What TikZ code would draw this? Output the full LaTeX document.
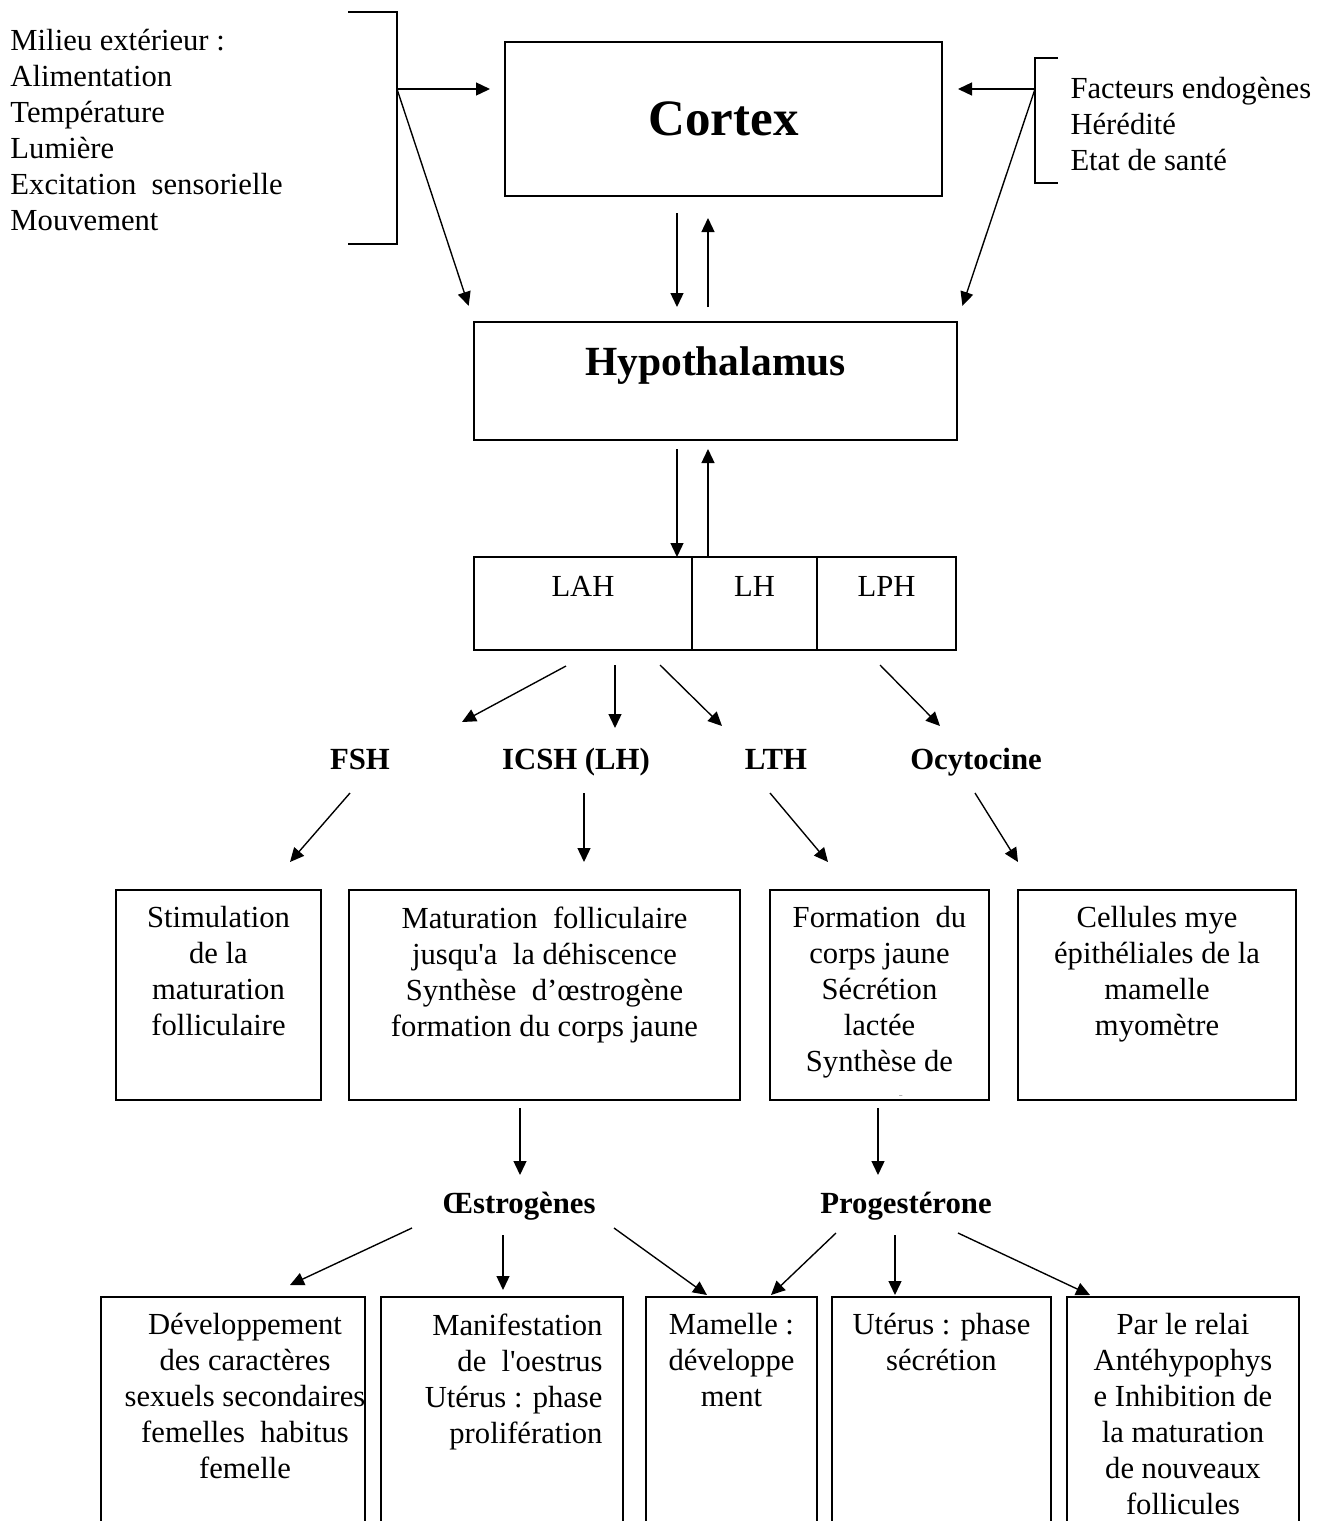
\documentclass[tikz,border=0pt]{standalone}
\usepackage{fontspec}
\setmainfont{Liberation Serif}
\usetikzlibrary{positioning, arrows.meta}

\begin{document}
\begin{tikzpicture}[
    x=0.4pt, y=-0.4pt,
    box/.style={draw, line width=0.75pt, inner sep=0pt, outer sep=0pt},
    txt/.style={inner sep=0pt, align=center, font=\fontsize{12.25}{14.4}\selectfont},
    hormone/.style={inner sep=0pt, font=\fontsize{12.3}{14.4}\selectfont\bfseries,
      text height=8.1pt, text depth=0pt},
    arr/.style={-{Triangle[length=5.6pt,width=5.2pt]}, line width=0.55pt}
  ]
    \useasboundingbox (0,0) rectangle (1327,1521);
    \clip (0,0) rectangle (1327,1521);

    % centres
    \node[box, minimum width=174.8pt, minimum height=61.6pt,
          font=\fontsize{20.4}{24}\selectfont\bfseries] (cortex) at (723.5,119) {Cortex};
    \node[box, minimum width=193.2pt, minimum height=47.2pt] (hypo) at (715.5,381) {};
    \node[txt, font=\fontsize{16.6}{20}\selectfont\bfseries, below=9.6pt of hypo.north] (hypotxt) {Hypothalamus};

    % hypophyse
    \node[box, minimum width=87.2pt, minimum height=37.2pt] (lah) at (583,603.5) {};
    \node[box, minimum width=50pt,   minimum height=37.2pt, right=0pt of lah] (lh) {};
    \node[box, minimum width=55.6pt, minimum height=37.2pt, right=0pt of lh]  (lph) {};
    \node[txt, below=7.6pt of lah.north] (lahtxt) {LAH};
    \node[txt, below=7.6pt of lh.north]  (lhtxt)  {LH};
    \node[txt, below=7.6pt of lph.north] (lphtxt) {LPH};

    % facteurs
    \draw[line width=0.6pt] (348,12) -- (397,12) -- (397,244) -- (348,244);
    \coordinate (lb) at (397,89);
    \node[txt, align=left, anchor=north west] (milieu) at (10,29)
      {Milieu extérieur~:\\Alimentation\\Température\\Lumière\\Excitation~ sensorielle\\Mouvement};
    \draw[line width=0.6pt] (1058,58) -- (1035,58) -- (1035,183) -- (1058,183);
    \coordinate (rb) at (1035,89);
    \node[txt, align=left, anchor=north west] (endo) at (1070,77)
      {Facteurs endogènes\\Hérédité\\Etat de santé};

    % hormones
    \node[hormone] (fsh)  at (360,759) {FSH};
    \node[hormone] (icsh) at (576,759) {ICSH (LH)};
    \node[hormone] (lth)  at (776,759) {LTH};
    \node[hormone] (ocy)  at (976,759) {Ocytocine};
    \node[hormone] (oes)  at (519,1203) {Œstrogènes};
    \node[hormone] (prog) at (906,1203) {Progestérone};

    % effets 1
    \node[box, minimum width=82pt,    minimum height=84pt] (stim)  at (218.5,995) {};
    \node[box, minimum width=156.4pt, minimum height=84pt] (matur) at (544.5,995) {};
    \node[box, minimum width=87.6pt,  minimum height=84pt] (corps) at (879.5,995) {};
    \node[box, minimum width=111.2pt, minimum height=84pt] (cell)  at (1157,995) {};
    \node[txt, below=6.4pt of stim.north] (stimtxt)
      {Stimulation\\de la\\maturation\\folliculaire};
    \node[txt, below=6.4pt of matur.north] (maturtxt)
      {Maturation~ folliculaire\\jusqu\textquotesingle a~ la déhiscence\\Synthèse~ d’œstrogène\\formation du corps jaune};
    \begin{scope}
      \clip ([shift={(0,-5)}]corps.south west) rectangle (corps.north east);
      \node[txt, below=6.4pt of corps.north] (corpstxt)
        {Formation~ du\\corps jaune\\Sécrétion\\lactée\\Synthèse de\\[4pt]progestérone};
    \end{scope}
    \node[txt, below=6.4pt of cell.north] (celltxt)
      {Cellules mye\\épithéliales de la\\mamelle\\myomètre};

    % effets 2
    \node[box, minimum width=105.6pt, minimum height=112pt] (dev)   at (233,1437) {};
    \node[box, minimum width=96.8pt,  minimum height=112pt] (mani)  at (502,1437) {};
    \node[box, minimum width=68.4pt,  minimum height=112pt] (mam)   at (731.5,1437) {};
    \node[box, minimum width=87.6pt,  minimum height=112pt] (uter)  at (941.5,1437) {};
    \node[box, minimum width=92.8pt,  minimum height=112pt] (relai) at (1183,1437) {};
    \node[txt, below=6.4pt of dev.north, xshift=4.8pt] (devtxt)
      {Développement\\des caractères\\sexuels secondaires\\femelles~ habitus\\femelle};
    \node[txt, align=right, below left=6.4pt and 8pt of mani.north east] (manitxt)
      {Manifestation\\de~ l\textquotesingle oestrus\\Utérus : phase\\prolifération};
    \node[txt, below=6.4pt of mam.north] (mamtxt) {Mamelle :\\développe\\ment};
    \node[txt, below=6.4pt of uter.north] (utertxt) {Utérus : phase\\sécrétion};
    \node[txt, below=6.4pt of relai.north] (relaitxt)
      {Par le relai\\Antéhypophys\\e Inhibition de\\la maturation\\de nouveaux\\follicules};

    % fleches
    \draw[arr, shorten >=6pt]   (lb) -- (lb -| cortex.west);
    \draw[arr, shorten >=6.8pt] (lb) -- (hypo.north west);
    \draw[arr, shorten >=6.4pt] (rb) -- (rb -| cortex.east);
    \draw[arr, shorten >=6.8pt] (rb) -- (hypo.north east);

    \draw[arr, shorten <=6.8pt, shorten >=6pt] (677,0 |- cortex.south) -- (677,0 |- hypo.north);
    \draw[arr, shorten <=6pt, shorten >=8.8pt] (708,0 |- hypo.north) -- (708,0 |- cortex.south);
    \draw[arr, shorten <=3.6pt] (677,0 |- hypo.south) -- (677,0 |- lah.north);
    \draw[arr, shorten >=3.6pt] (708,0 |- lh.north) -- (708,0 |- hypo.south);

    \draw[arr] ([shift={(-17,16)}]lah.south) -- ([shift={(102,-37)}]fsh.center);
    \draw[arr] ([shift={(32,15)}]lah.south)  -- ([shift={(39,-31)}]icsh.center);
    \draw[arr] ([shift={(77,15)}]lah.south)  -- ([shift={(-54,-33)}]lth.center);
    \draw[arr] ([shift={(-6.5,15)}]lph.south) -- ([shift={(-36,-33)}]ocy.center);

    \draw[arr] ([shift={(-10,34)}]fsh.center) -- ([shift={(-31,-28)}]stim.north east);
    \draw[arr] ([shift={(8,34)}]icsh.center)  -- ([shift={(39.5,-28)}]matur.north);
    \draw[arr] ([shift={(-6,34)}]lth.center)  -- ([shift={(58,-28)}]corps.north west);
    \draw[arr] ([shift={(-1,34)}]ocy.center)  -- ([shift={(0,-28)}]cell.north west);

    \draw[arr] ([shift={(-24.5,8)}]matur.south) -- ([shift={(1,-28)}]oes.center);
    \draw[arr] ([shift={(-1.5,8)}]corps.south)  -- ([shift={(-28,-28)}]prog.center);

    \draw[arr] ([shift={(-107,25)}]oes.center) -- ([shift={(57,-12)}]dev.north);
    \draw[arr] ([shift={(-16,32)}]oes.center)  -- ([shift={(1,-7)}]mani.north);
    \draw[arr] ([shift={(95,25)}]oes.center)   -- ([shift={(-24.5,-2)}]mam.north);
    \draw[arr] ([shift={(-70,30)}]prog.center) -- ([shift={(39.5,-2)}]mam.north);
    \draw[arr] ([shift={(-11,32)}]prog.center) -- ([shift={(-46.5,-2)}]uter.north);
    \draw[arr] ([shift={(52,30)}]prog.center)  -- ([shift={(-93,-2)}]relai.north);
  \end{tikzpicture}
\end{document}
